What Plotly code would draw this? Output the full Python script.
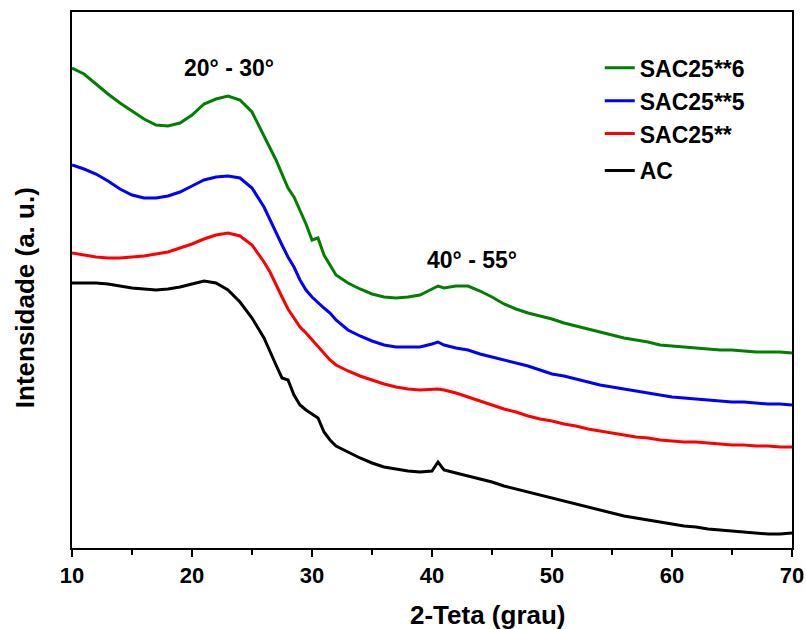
import plotly.graph_objects as go

# 2-theta grid (degrees)
two_theta = [10, 11, 12, 13, 14, 15, 16, 17, 18, 19, 20, 21, 22, 23, 24, 25, 26,
             26.5, 27, 27.5, 28, 28.5, 29, 29.5, 30, 30.5, 31, 31.5, 32,
             33, 34, 35, 36, 37, 38, 39, 40, 40.5, 41, 42, 43, 44, 45, 46, 47, 48, 49,
             50, 51, 52, 53, 54, 55, 56, 57, 58, 59, 60, 61, 62, 63, 64, 65, 66, 67,
             68, 69, 70]

# Intensities (arbitrary units, offset curves)
sac25_6 = [480, 474, 464, 454, 445, 437, 429, 423, 422, 425, 433, 444, 449, 452, 448, 436, 413,
           400, 388, 373, 360, 351, 338, 324, 308, 310, 293, 283, 273,
           265, 259, 254, 251, 250, 251, 253, 259, 262, 260, 262, 262, 257, 251, 244, 239, 235, 232,
           229, 225, 222, 219, 216, 213, 210, 208, 206, 203, 202, 201, 200, 199, 198, 198, 197, 196,
           196, 196, 195]
sac25_5 = [383, 379, 374, 367, 359, 353, 350, 350, 352, 356, 362, 368, 371, 372, 370, 360, 341,
           328, 316, 303, 291, 281, 268, 258, 251, 245, 240, 235, 228,
           218, 212, 207, 203, 201, 201, 201, 204, 206, 203, 200, 198, 194, 191, 188, 185, 182, 178,
           174, 172, 169, 166, 163, 161, 159, 157, 155, 153, 151, 150, 149, 148, 147, 146, 146, 145,
           144, 144, 143]
sac25 = [295, 293, 291, 290, 290, 291, 292, 294, 296, 300, 304, 309, 313, 315, 312, 303, 286,
         276, 263, 251, 239, 230, 221, 215, 208, 201, 194, 188, 183,
         177, 172, 168, 164, 161, 159, 158, 159, 159, 158, 155, 151, 147, 143, 139, 136, 132, 129,
         127, 124, 122, 119, 117, 115, 113, 111, 110, 108, 107, 106, 106, 105, 104, 103, 103, 102,
         102, 101, 101]
ac = [265, 265, 265, 264, 262, 260, 259, 258, 259, 261, 264, 267, 265, 258, 246, 230, 210,
      196, 183, 170, 168, 153, 143, 138, 134, 130, 116, 108, 102,
      96, 90, 85, 81, 79, 77, 76, 77, 86, 78, 75, 72, 69, 66, 62, 59, 56, 53,
      50, 47, 44, 41, 38, 35, 32, 30, 28, 26, 24, 22, 21, 19, 18, 17, 16, 15,
      14, 14, 15]

# legend order: top to bottom
series = [
    ("SAC25**6", sac25_6, "#008000", "g1"),
    ("SAC25**5", sac25_5, "#0000ff", "g1"),
    ("SAC25**", sac25, "#ff0000", "g1"),
    ("AC", ac, "#000000", "g2"),
]

x_ticks = [10, 20, 30, 40, 50, 60, 70]

FONT = "Liberation Sans, Arial, sans-serif"

fig = go.Figure()
for name, vals, color, grp in series:
    fig.add_trace(go.Scatter(x=two_theta, y=vals, mode="lines", name=name,
                             legendgroup=grp,
                             line=dict(color=color, width=3)))

fig.update_layout(
    width=806, height=629,
    margin=dict(l=72, r=14, t=12, b=81, autoexpand=False),
    paper_bgcolor="white", plot_bgcolor="white",
    showlegend=True,
    legend=dict(x=0.733, y=0.936, xanchor="left", yanchor="top",
                traceorder="grouped", tracegroupgap=4,
                font=dict(family=FONT, size=23, color="black", weight="bold"),
                bgcolor="rgba(0,0,0,0)"),
    xaxis=dict(range=[10, 70], tickvals=x_ticks, ticks="outside", ticklen=7, tickwidth=2,
               tickcolor="black", showline=True, linewidth=2, linecolor="black", mirror=True,
               showgrid=False, zeroline=False, automargin=False,
               minor=dict(dtick=5, ticks="outside", ticklen=5, tickwidth=2, tickcolor="black"),
               tickfont=dict(family=FONT, size=22, color="black", weight="bold")),
    yaxis=dict(range=[0, 536], showticklabels=False, ticks="", showline=True, linewidth=2,
               linecolor="black", mirror=True, showgrid=False, zeroline=False, automargin=False),
    annotations=[
        dict(text="20° - 30°", x=23.1, y=480, xref="x", yref="y", showarrow=False,
             font=dict(family=FONT, size=23, color="black", weight="bold")),
        dict(text="40° - 55°", x=43.3, y=288, xref="x", yref="y", showarrow=False,
             font=dict(family=FONT, size=23, color="black", weight="bold")),
        dict(text="2-Teta (grau)", x=(488 - 72) / 720, y=-0.125, xref="paper", yref="paper",
             showarrow=False, yanchor="middle",
             font=dict(family=FONT, size=26, color="black", weight="bold")),
        dict(text="Intensidade (a. u.)", x=-0.065, y=(548 - 298) / 536, xref="paper", yref="paper",
             showarrow=False, textangle=-90, xanchor="center", yanchor="middle",
             font=dict(family=FONT, size=26, color="black", weight="bold")),
    ],
)

fig.write_html("out.html")
